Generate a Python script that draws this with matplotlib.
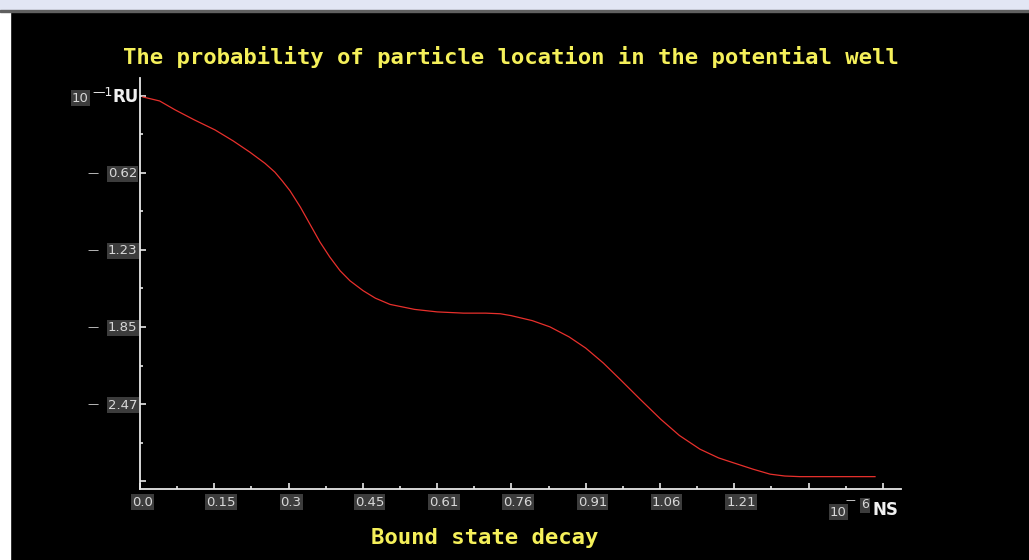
import matplotlib.pyplot as plt
from matplotlib.patches import Rectangle

# bound-state decay curve
t_vals = [0.006, 0.04, 0.071, 0.11, 0.153, 0.19, 0.224, 0.255, 0.275, 0.29, 0.306,
          0.327, 0.347, 0.367, 0.387, 0.408, 0.428, 0.455, 0.48, 0.51, 0.56, 0.606,
          0.66, 0.705, 0.735, 0.757, 0.8, 0.836, 0.875, 0.909, 0.945, 0.979, 1.02,
          1.062, 1.1, 1.142, 1.18, 1.211, 1.25, 1.285, 1.315, 1.346, 1.42, 1.499]
p_vals = [0.008, 0.04, 0.11, 0.19, 0.272, 0.36, 0.45, 0.54, 0.61, 0.68, 0.76,
          0.89, 1.03, 1.17, 1.29, 1.40, 1.48, 1.56, 1.62, 1.67, 1.71, 1.73,
          1.74, 1.74, 1.745, 1.76, 1.80, 1.85, 1.93, 2.02, 2.14, 2.27, 2.43,
          2.59, 2.72, 2.83, 2.90, 2.94, 2.99, 3.03, 3.045, 3.05, 3.05, 3.05]

x_major = [0.1515 * k for k in range(11)]
x_labels = ["0.0", "0.15", "0.3", "0.45", "0.61", "0.76", "0.91", "1.06", "1.21", "", ""]
y_major = [0.617 * k for k in range(6)]
y_labels = ["", "0.62", "1.23", "1.85", "2.47", ""]

title = "The probability of particle location in the potential well"
xlabel = "Bound state decay"

fig = plt.figure(figsize=(10.29, 5.6), dpi=100)
fig.patch.set_facecolor("black")

# window chrome from the screenshot
fig.patches.append(Rectangle((0, 0), 10 / 1029, 1, transform=fig.transFigure,
                             color="white", zorder=0))
fig.patches.append(Rectangle((0, 1 - 10 / 560), 1, 10 / 560, transform=fig.transFigure,
                             color="#e2e6f4", zorder=0))
fig.patches.append(Rectangle((0, 1 - 12 / 560), 1, 2 / 560, transform=fig.transFigure,
                             color="#606060", zorder=0))

ax = fig.add_axes([140 / 1029, 1 - 489 / 560, 761 / 1029, 411 / 560])
ax.set_facecolor("black")
ax.plot(t_vals, p_vals, color="#e8302c", lw=0.9)

ax.set_xlim(0, 1.552)
ax.set_ylim(3.149, -0.144)

for s in ["top", "right"]:
    ax.spines[s].set_visible(False)
for s in ["left", "bottom"]:
    ax.spines[s].set_color("#e8e8e8")
    ax.spines[s].set_linewidth(1.3)

ax.set_xticks(x_major)
ax.set_xticks([v + 0.07575 for v in x_major[:-1]], minor=True)
ax.set_yticks(y_major)
ax.set_yticks([v + 0.3085 for v in y_major[:-1]], minor=True)
ax.tick_params(which="major", direction="in", length=4, width=1.2, color="#e8e8e8",
               labelbottom=False, labelleft=False)
ax.tick_params(which="minor", direction="in", length=2.5, width=1.2, color="#e8e8e8")

box = dict(boxstyle="square,pad=0.08", facecolor="#3c3c3c", edgecolor="none")
lab_kw = dict(color="#d8d8d8", fontsize=9.5, family="DejaVu Sans", bbox=box)

for v, s in zip(x_major, x_labels):
    if s:
        ax.annotate(s, (v, 0), xycoords=("data", "axes fraction"), xytext=(-8, -13),
                    textcoords="offset pixels", ha="left", va="center", **lab_kw)

for v, s in zip(y_major, y_labels):
    if s:
        ax.annotate(s, (0, v), xycoords=("axes fraction", "data"), xytext=(-32, -1),
                    textcoords="offset pixels", ha="left", va="center", **lab_kw)
        ax.annotate("—", (0, v), xycoords=("axes fraction", "data"), xytext=(-53, 0),
                    textcoords="offset pixels", ha="left", va="center",
                    color="#d8d8d8", fontsize=8)

# axis unit labels
fig.text(72 / 1029, 1 - 98 / 560, "10", ha="left", va="center", **lab_kw)
fig.text(92 / 1029, 1 - 92 / 560, "—1", ha="left", va="center", color="#e8e8e8",
         fontsize=9)
fig.text(112 / 1029, 1 - 97 / 560, "RU", ha="left", va="center", color="#f0f0f0",
         fontsize=12, fontweight="bold")

fig.text(830 / 1029, 1 - 512 / 560, "10", ha="left", va="center", **lab_kw)
fig.text(846 / 1029, 1 - 500 / 560, "—", ha="left", va="center", color="#e8e8e8",
         fontsize=7)
fig.text(861 / 1029, 1 - 505 / 560, "6", ha="left", va="center", color="#d8d8d8",
         fontsize=9, bbox=box)
fig.text(873 / 1029, 1 - 510 / 560, "NS", ha="left", va="center", color="#f0f0f0",
         fontsize=12, fontweight="bold")

fig.text(511 / 1029, 1 - 57 / 560, title, ha="center", va="center", color="#f5f05a",
         fontsize=16, family="DejaVu Sans Mono", fontweight="bold")
fig.text(485 / 1029, 1 - 538 / 560, xlabel, ha="center", va="center", color="#f5f05a",
         fontsize=16, family="DejaVu Sans Mono", fontweight="bold")

fig.savefig("out.png", dpi=100, facecolor=fig.get_facecolor())
